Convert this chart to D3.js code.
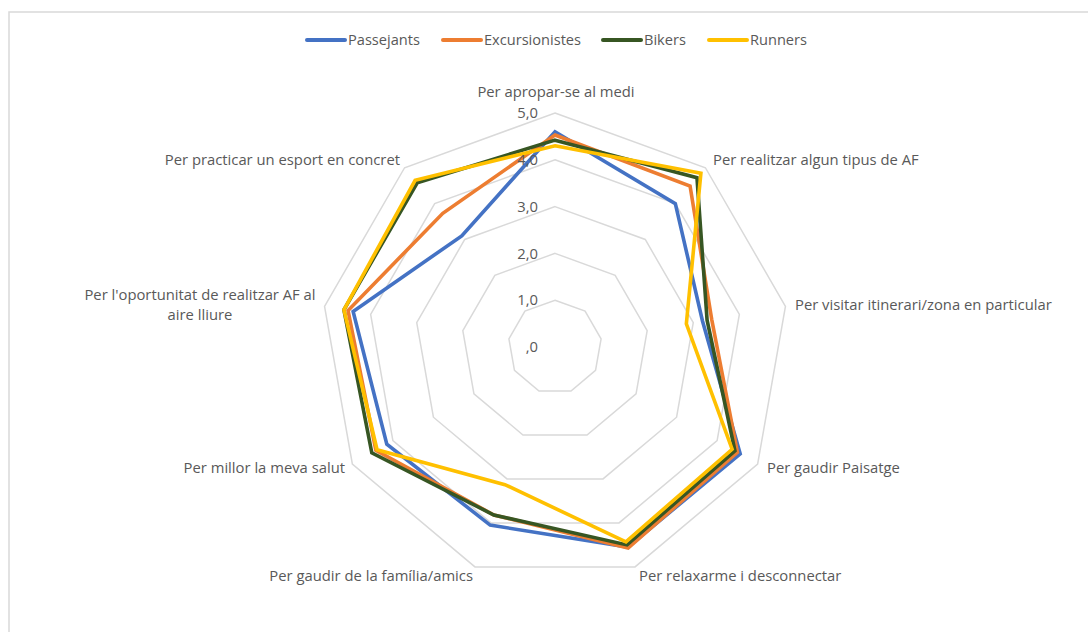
<!DOCTYPE html>
<html>
<head>
<meta charset="utf-8">
<script src="https://cdn.jsdelivr.net/npm/d3@7"></script>
<style>
  html, body { margin: 0; padding: 0; background: #fff; }
  svg { display: block; }
  text { font-family: "Open Sans", "Noto Sans", sans-serif; fill: #595959; }
</style>
</head>
<body>
<svg id="chart" width="1088" height="632"></svg>
<script>
const categories = [
  "Per apropar-se al medi",
  "Per realitzar algun tipus de AF",
  "Per visitar itinerari/zona en particular",
  "Per gaudir Paisatge",
  "Per relaxarme i desconnectar",
  "Per gaudir de la família/amics",
  "Per millor la meva salut",
  "Per l'oportunitat de realitzar AF al aire lliure",
  "Per practicar un esport en concret"
];
const seriesNames = ["Passejants", "Excursionistes", "Bikers", "Runners"];
const passejants     = [4.60, 4.00, 3.20, 4.57, 4.55, 4.05, 4.15, 4.38, 3.10];
const excursionistes = [4.53, 4.49, 3.40, 4.50, 4.57, 3.82, 4.42, 4.49, 3.73];
const bikers         = [4.42, 4.72, 3.30, 4.44, 4.50, 3.82, 4.52, 4.58, 4.58];
const runners        = [4.30, 4.85, 2.85, 4.37, 4.43, 3.13, 4.39, 4.58, 4.65];
const tickValues = [0, 1, 2, 3, 4, 5];
const tickLabels = [",0", "1,0", "2,0", "3,0", "4,0", "5,0"];
const colors = ["#4472C4", "#ED7D31", "#375623", "#FFC000"];

const seriesData = [passejants, excursionistes, bikers, runners];

const svg = d3.select("#chart");
const cx = 555, cy = 347, R = 234;

// outer frame
svg.append("rect").attr("x", 9).attr("y", 12).attr("width", 1088).attr("height", 640)
  .attr("fill", "none").attr("stroke", "#d9d9d9").attr("stroke-width", 1.5);

const r = d3.scaleLinear().domain([0, 5]).range([0, R]);
const angle = d3.scalePoint().domain(d3.range(categories.length)).range([0, 2 * Math.PI * (categories.length - 1) / categories.length]);

const g = svg.append("g").attr("transform", `translate(${cx},${cy})`);

// grid rings
const ring = d3.lineRadial().angle((d, i) => angle(i)).radius(d => r(d)).curve(d3.curveLinearClosed);
g.selectAll("path.grid").data(tickValues.filter(v => v > 0)).enter().append("path")
  .attr("class", "grid")
  .attr("d", v => ring(categories.map(() => v)))
  .attr("fill", "none").attr("stroke", "#d9d9d9").attr("stroke-width", 1.5);

// series
const line = d3.lineRadial().angle((d, i) => angle(i)).radius(d => r(d)).curve(d3.curveLinearClosed);
g.selectAll("path.series").data(seriesData).enter().append("path")
  .attr("class", "series")
  .attr("d", d => line(d))
  .attr("fill", "none")
  .attr("stroke", (d, i) => colors[i])
  .attr("stroke-width", 3.6)
  .attr("stroke-linejoin", "miter");

// tick labels
g.selectAll("text.tick").data(tickValues).enter().append("text")
  .attr("class", "tick")
  .attr("x", -17)
  .attr("y", v => -r(v))
  .attr("dy", "0.35em")
  .attr("text-anchor", "end")
  .style("font-size", "14.8px")
  .text((v, i) => tickLabels[i]);

// category labels
const labelPos = [
  { x: 556, y: 92, anchor: "middle" },
  { x: 713, y: 160, anchor: "start" },
  { x: 795, y: 305, anchor: "start" },
  { x: 767, y: 468, anchor: "start" },
  { x: 639, y: 576, anchor: "start" },
  { x: 473, y: 576, anchor: "end" },
  { x: 345, y: 468, anchor: "end" },
  { x: 200, y: 295, anchor: "middle", lines: ["Per l'oportunitat de realitzar AF al", "aire lliure"] },
  { x: 400, y: 160, anchor: "end" }
];
categories.forEach((c, i) => {
  const p = labelPos[i];
  const t = svg.append("text")
    .attr("x", p.x).attr("y", p.y)
    .attr("text-anchor", p.anchor)
    .style("font-size", "14.8px");
  const lines = p.lines || [c];
  lines.forEach((ln, k) => {
    t.append("tspan").attr("x", p.x).attr("dy", k === 0 ? "0.35em" : "1.37em").text(ln);
  });
});

// legend
const legendX = [307, 443, 603, 709];
const lg = svg.append("g");
seriesNames.forEach((n, i) => {
  lg.append("line").attr("x1", legendX[i]).attr("x2", legendX[i] + 38)
    .attr("y1", 40).attr("y2", 40)
    .attr("stroke", colors[i]).attr("stroke-width", 4).attr("stroke-linecap", "round");
  lg.append("text").attr("x", legendX[i] + 41).attr("y", 40).attr("dy", "0.35em")
    .style("font-size", "14.6px").text(n);
});
</script>
</body>
</html>
